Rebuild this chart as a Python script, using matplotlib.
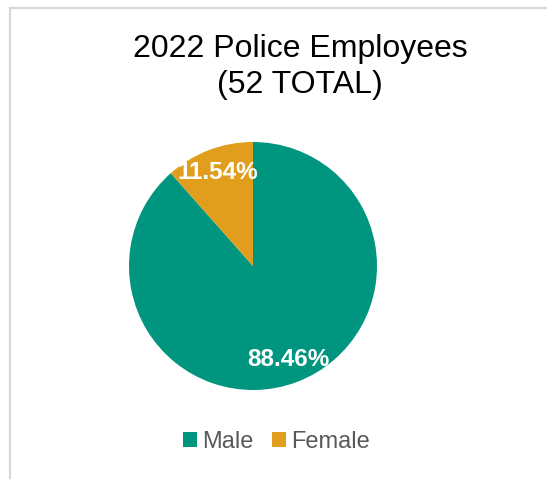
import matplotlib.pyplot as plt
from matplotlib.lines import Line2D
from matplotlib.patches import Patch

plt.rcParams['font.family'] = ['Liberation Sans', 'DejaVu Sans']

labels = ['Male', 'Female']
counts = [46, 6]
colors = ['#00957F', '#E19E1D']

W, H = 547, 479
fig = plt.figure(figsize=(W / 100, H / 100), dpi=100)

# pie area in pixel terms: centre (253, 266), radius 124
cx, cy, r = 253, 266, 124
ax = fig.add_axes([(cx - r) / W, (H - cy - r) / H, 2 * r / W, 2 * r / H])
wedges, texts, autotexts = ax.pie(counts, colors=colors, startangle=90, counterclock=False,
                                  autopct='%.2f%%', pctdistance=0.81, radius=1,
                                  textprops=dict(color='white', fontsize=17.5, fontweight='bold'))
ax.set_xlim(-1, 1)
ax.set_ylim(-1, 1)
ax.set_aspect('equal')
ax.axis('off')

fig.text(300 / W, 1 - 67 / H, '2022 Police Employees\n(52 TOTAL)', ha='center', va='center',
         fontsize=23, color='black', linespacing=1.28)

handles = [Patch(facecolor=c, edgecolor='none') for c in colors]
fig.legend(handles, labels, loc='center', bbox_to_anchor=(276.5 / W, 1 - 441.5 / H), ncol=2,
           frameon=False, fontsize=17, labelcolor='#595959', handlelength=0.6, handleheight=0.6,
           handletextpad=0.2, columnspacing=0.8, borderpad=0)

# chart frame (top and left edges visible)
fig.add_artist(Line2D([9.5 / W, 1], [1 - 7.5 / H, 1 - 7.5 / H], color='#d9d9d9', lw=1.6,
                      transform=fig.transFigure))
fig.add_artist(Line2D([9.5 / W, 9.5 / W], [0, 1 - 7.5 / H], color='#d9d9d9', lw=1.6,
                      transform=fig.transFigure))

fig.savefig('out.png', dpi=100)
